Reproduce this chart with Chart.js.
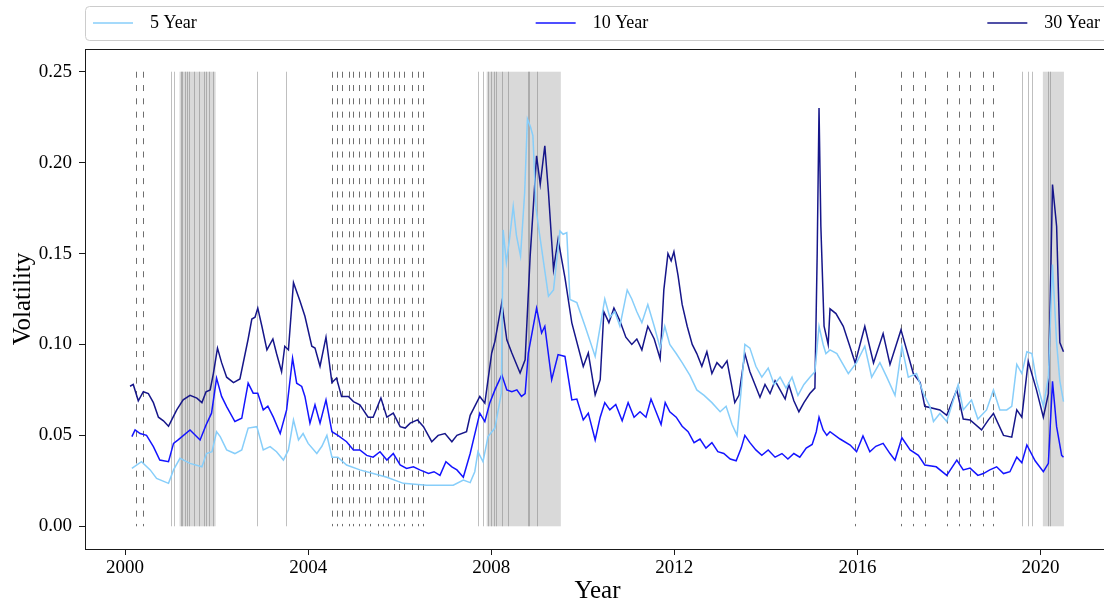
<!DOCTYPE html>
<html>
<head>
<meta charset="utf-8">
<script src="https://cdn.jsdelivr.net/npm/chart.js@4.4.1/dist/chart.umd.min.js"></script>
<style>
  html, body { margin: 0; padding: 0; background: #fff; }
  #wrap { width: 1104px; height: 611px; overflow: hidden; position: relative; }
  canvas { display: block; }
</style>
</head>
<body>
<div id="wrap"><canvas id="c" width="1120" height="611"></canvas></div>
<script>
// ---- series: rolling volatility of 5, 10 and 30 year yields ----
const dates5 = [2000.15,2000.36,2000.55,2000.69,2000.95,2001.06,2001.20,2001.42,2001.68,2001.78,2001.90,2002.00,2002.08,2002.22,2002.40,2002.55,2002.69,2002.88,2003.02,2003.17,2003.31,2003.46,2003.57,2003.68,2003.79,2003.89,2004.00,2004.19,2004.30,2004.41,2004.52,2004.65,2004.84,2005.13,2005.42,2005.72,2006.08,2006.59,2006.88,2007.17,2007.39,2007.54,2007.64,2007.71,2007.82,2007.93,2008.08,2008.22,2008.26,2008.33,2008.40,2008.48,2008.55,2008.64,2008.73,2008.79,2008.86,2008.91,2008.98,2009.05,2009.25,2009.36,2009.50,2009.57,2009.65,2009.72,2009.87,2010.05,2010.27,2010.38,2010.48,2010.59,2010.70,2010.81,2010.97,2011.07,2011.18,2011.29,2011.42,2011.56,2011.69,2011.79,2011.90,2012.04,2012.17,2012.34,2012.49,2012.65,2012.82,2013.00,2013.13,2013.26,2013.37,2013.46,2013.54,2013.65,2013.78,2013.91,2014.05,2014.18,2014.31,2014.44,2014.57,2014.70,2014.83,2014.96,2015.07,2015.16,2015.25,2015.31,2015.40,2015.55,2015.80,2015.98,2016.16,2016.31,2016.49,2016.64,2016.82,2016.97,2017.11,2017.29,2017.44,2017.58,2017.66,2017.80,2017.95,2018.20,2018.31,2018.49,2018.63,2018.82,2018.97,2019.11,2019.26,2019.37,2019.48,2019.59,2019.70,2019.81,2019.91,2020.06,2020.17,2020.26,2020.35,2020.42,2020.50];
const vol5 = [0.0318,0.0355,0.031,0.0263,0.0236,0.031,0.0374,0.0346,0.0327,0.040,0.041,0.052,0.0493,0.042,0.040,0.042,0.054,0.0548,0.042,0.0438,0.041,0.0364,0.042,0.0585,0.0475,0.051,0.0456,0.040,0.044,0.050,0.038,0.038,0.0337,0.031,0.029,0.027,0.0236,0.0226,0.0226,0.0226,0.0254,0.024,0.030,0.041,0.0355,0.0493,0.054,0.0732,0.163,0.145,0.158,0.176,0.160,0.1486,0.1836,0.224,0.2195,0.2148,0.1744,0.1615,0.1265,0.130,0.1624,0.1606,0.1615,0.1247,0.123,0.110,0.0934,0.110,0.125,0.115,0.118,0.110,0.130,0.125,0.118,0.112,0.122,0.110,0.098,0.110,0.100,0.095,0.090,0.083,0.075,0.072,0.068,0.063,0.066,0.056,0.050,0.075,0.100,0.098,0.088,0.082,0.087,0.078,0.082,0.076,0.082,0.072,0.078,0.082,0.085,0.110,0.100,0.095,0.097,0.095,0.084,0.090,0.099,0.082,0.090,0.082,0.072,0.099,0.082,0.084,0.073,0.066,0.0576,0.062,0.0576,0.078,0.064,0.0695,0.059,0.064,0.075,0.064,0.064,0.066,0.089,0.084,0.096,0.095,0.080,0.066,0.082,0.144,0.101,0.080,0.0686];

const dates10 = [2000.15,2000.22,2000.33,2000.47,2000.62,2000.76,2000.95,2001.06,2001.16,2001.42,2001.64,2001.77,2001.89,2002.00,2002.11,2002.22,2002.40,2002.55,2002.69,2002.80,2002.90,2003.02,2003.12,2003.24,2003.39,2003.53,2003.66,2003.75,2003.86,2003.93,2004.04,2004.15,2004.26,2004.39,2004.52,2004.65,2004.84,2004.99,2005.13,2005.28,2005.42,2005.57,2005.72,2005.86,2006.01,2006.15,2006.30,2006.44,2006.63,2006.75,2006.88,2007.01,2007.14,2007.25,2007.39,2007.54,2007.75,2007.86,2007.97,2008.08,2008.23,2008.34,2008.45,2008.56,2008.66,2008.74,2008.81,2008.99,2009.10,2009.17,2009.32,2009.46,2009.61,2009.76,2009.87,2010.01,2010.12,2010.27,2010.38,2010.48,2010.59,2010.72,2010.86,2010.99,2011.12,2011.25,2011.38,2011.49,2011.60,2011.71,2011.80,2011.90,2012.04,2012.17,2012.30,2012.43,2012.56,2012.69,2012.82,2012.95,2013.08,2013.22,2013.35,2013.46,2013.54,2013.65,2013.78,2013.91,2014.05,2014.20,2014.35,2014.48,2014.61,2014.74,2014.88,2015.01,2015.10,2015.16,2015.25,2015.33,2015.40,2015.62,2015.84,2015.98,2016.12,2016.27,2016.40,2016.56,2016.71,2016.82,2016.97,2017.15,2017.33,2017.47,2017.72,2017.95,2018.17,2018.31,2018.46,2018.63,2018.75,2018.89,2019.04,2019.19,2019.33,2019.48,2019.59,2019.70,2019.88,2020.06,2020.17,2020.26,2020.35,2020.46,2020.50];
const vol10 = [0.0493,0.053,0.051,0.050,0.0438,0.0364,0.0355,0.0456,0.0475,0.053,0.0475,0.0557,0.0622,0.0815,0.0714,0.0658,0.0576,0.0594,0.0787,0.0732,0.0732,0.064,0.066,0.060,0.051,0.064,0.0925,0.0787,0.0769,0.0714,0.0567,0.0668,0.0567,0.0695,0.052,0.050,0.0465,0.042,0.042,0.039,0.038,0.041,0.0364,0.040,0.0337,0.0318,0.0327,0.031,0.029,0.030,0.028,0.0355,0.0327,0.031,0.027,0.040,0.0622,0.0576,0.068,0.075,0.0833,0.075,0.074,0.075,0.0714,0.073,0.0953,0.120,0.1063,0.110,0.0806,0.0944,0.0934,0.0695,0.070,0.0585,0.0622,0.0475,0.060,0.068,0.064,0.067,0.058,0.068,0.060,0.063,0.060,0.070,0.063,0.056,0.068,0.063,0.060,0.055,0.052,0.046,0.048,0.043,0.046,0.041,0.040,0.037,0.036,0.043,0.050,0.046,0.042,0.039,0.042,0.038,0.040,0.037,0.040,0.038,0.043,0.045,0.052,0.060,0.053,0.050,0.052,0.048,0.0447,0.041,0.0497,0.041,0.044,0.0456,0.040,0.0364,0.0487,0.042,0.039,0.0337,0.0327,0.028,0.0364,0.031,0.032,0.028,0.029,0.031,0.0327,0.029,0.030,0.038,0.035,0.0447,0.036,0.030,0.0346,0.0797,0.0548,0.039,0.038];

const dates30 = [2000.11,2000.18,2000.29,2000.40,2000.51,2000.62,2000.73,2000.84,2000.95,2001.02,2001.13,2001.27,2001.42,2001.57,2001.68,2001.77,2001.86,2001.93,2002.02,2002.11,2002.22,2002.37,2002.51,2002.69,2002.77,2002.84,2002.90,2002.99,2003.10,2003.23,2003.31,2003.42,2003.49,2003.57,2003.68,2003.75,2003.82,2003.93,2004.08,2004.15,2004.26,2004.39,2004.52,2004.62,2004.73,2004.88,2004.99,2005.13,2005.31,2005.42,2005.59,2005.72,2005.86,2006.01,2006.12,2006.23,2006.39,2006.52,2006.70,2006.84,2006.99,2007.14,2007.25,2007.46,2007.54,2007.75,2007.86,2008.01,2008.08,2008.23,2008.34,2008.45,2008.63,2008.74,2008.85,2008.99,2009.07,2009.17,2009.25,2009.36,2009.46,2009.61,2009.76,2010.01,2010.12,2010.27,2010.38,2010.46,2010.57,2010.68,2010.81,2010.94,2011.07,2011.18,2011.29,2011.42,2011.56,2011.69,2011.77,2011.86,2011.93,2011.99,2012.08,2012.17,2012.28,2012.39,2012.49,2012.60,2012.71,2012.82,2012.93,2013.04,2013.15,2013.24,2013.32,2013.41,2013.54,2013.65,2013.76,2013.87,2013.98,2014.09,2014.20,2014.31,2014.42,2014.50,2014.61,2014.72,2014.83,2014.96,2015.07,2015.12,2015.16,2015.20,2015.27,2015.36,2015.40,2015.53,2015.69,2015.82,2015.95,2016.16,2016.35,2016.56,2016.71,2016.95,2017.22,2017.37,2017.47,2017.80,2017.95,2018.17,2018.31,2018.46,2018.71,2018.86,2018.97,2019.19,2019.37,2019.48,2019.59,2019.73,2019.91,2020.06,2020.17,2020.26,2020.35,2020.42,2020.50];
const vol30 = [0.077,0.078,0.069,0.074,0.073,0.068,0.060,0.058,0.055,0.0585,0.064,0.0695,0.072,0.0705,0.068,0.074,0.075,0.084,0.098,0.090,0.082,0.079,0.081,0.103,0.114,0.115,0.120,0.110,0.097,0.103,0.095,0.085,0.099,0.097,0.134,0.129,0.124,0.1155,0.099,0.098,0.088,0.104,0.079,0.0815,0.0714,0.0714,0.0686,0.0668,0.060,0.060,0.0705,0.060,0.0622,0.0548,0.054,0.0567,0.0585,0.0548,0.0465,0.050,0.051,0.0465,0.050,0.052,0.061,0.0714,0.0677,0.0953,0.1017,0.1229,0.1026,0.0953,0.0843,0.0916,0.1486,0.2038,0.188,0.2093,0.1836,0.1413,0.1578,0.1367,0.1119,0.0879,0.0953,0.0723,0.0806,0.118,0.112,0.120,0.113,0.104,0.100,0.103,0.097,0.110,0.103,0.092,0.130,0.150,0.146,0.151,0.138,0.122,0.110,0.100,0.095,0.088,0.096,0.084,0.090,0.087,0.091,0.079,0.068,0.072,0.095,0.085,0.078,0.071,0.078,0.073,0.080,0.075,0.070,0.078,0.069,0.063,0.068,0.073,0.076,0.150,0.230,0.165,0.110,0.100,0.1196,0.117,0.110,0.100,0.0898,0.110,0.0898,0.106,0.089,0.108,0.084,0.079,0.066,0.064,0.061,0.075,0.059,0.0585,0.053,0.0585,0.062,0.050,0.049,0.064,0.060,0.0907,0.075,0.060,0.073,0.188,0.165,0.101,0.096];

// ---- policy events and recession windows ----
const hikeDates = [2000.23,2000.39,2004.52,2004.63,2004.74,2004.89,2004.97,2005.12,2005.24,2005.35,2005.53,2005.64,2005.75,2005.87,2005.98,2006.09,2006.27,2006.39,2006.52,2015.95,2016.95,2017.22,2017.47,2017.96,2018.22,2018.45,2018.74,2018.96];
const cutDates = [2001.01,2001.08,2001.22,2001.25,2001.30,2001.35,2001.40,2001.50,2001.61,2001.73,2001.77,2001.84,2001.92,2002.88,2003.52,2007.72,2007.83,2007.94,2007.99,2008.07,2008.10,2008.24,2008.36,2008.80,2008.83,2008.99,2019.59,2019.72,2019.82,2020.17,2020.20];
const recessionStart = [2001.19,2007.90,2020.05];
const recessionEnd = [2001.98,2009.52,2020.51];

// ---- axes ----
const yearTicks = [2000,2004,2008,2012,2016,2020];
const volTicks = [0.00,0.05,0.10,0.15,0.20,0.25];
const seriesLabels = ['5 Year','10 Year','30 Year'];
const seriesColors = ['#87cefa','#1414ff','#16168a'];

const FONT = '"Liberation Serif", "Times New Roman", serif';

function pairs(xs, ys) { return xs.map((d, i) => ({ x: d, y: ys[i] })); }

const refLines = {
  id: 'refLines',
  beforeDatasetsDraw(chart) {
    const { ctx, chartArea: a, scales: { x, y } } = chart;
    const yLo = y.getPixelForValue(volTicks[0]);
    const yHi = y.getPixelForValue(volTicks[volTicks.length - 1]);
    ctx.save();
    ctx.beginPath();
    ctx.rect(a.left, a.top, a.right - a.left, a.bottom - a.top);
    ctx.clip();
    // shaded recessions
    ctx.fillStyle = 'rgba(128,128,128,0.3)';
    recessionStart.forEach((s, i) => {
      const l = x.getPixelForValue(s), r = x.getPixelForValue(recessionEnd[i]);
      ctx.fillRect(l, yHi, r - l, yLo - yHi);
    });
    // rate cuts: thin solid grey
    ctx.strokeStyle = 'rgba(128,128,128,0.5)';
    ctx.lineWidth = 1;
    cutDates.forEach(d => {
      const px = Math.round(x.getPixelForValue(d)) + 0.5;
      ctx.beginPath(); ctx.moveTo(px, yHi); ctx.lineTo(px, yLo); ctx.stroke();
    });
    // rate hikes: dashed dark grey
    ctx.strokeStyle = 'rgba(50,50,50,0.7)';
    ctx.setLineDash([6, 7.3]);
    hikeDates.forEach(d => {
      const px = Math.round(x.getPixelForValue(d)) + 0.5;
      ctx.beginPath(); ctx.moveTo(px, yHi); ctx.lineTo(px, yLo); ctx.stroke();
    });
    ctx.restore();
  },
  afterDraw(chart) {
    const { ctx, chartArea: a } = chart;
    ctx.save();
    // axes frame
    ctx.strokeStyle = '#1a1a1a';
    ctx.lineWidth = 1;
    ctx.strokeRect(Math.round(a.left) + 0.5, Math.round(a.top) + 0.5,
                   Math.round(a.right - a.left), Math.round(a.bottom - a.top));
    // axis titles
    ctx.fillStyle = '#000';
    ctx.font = '25px ' + FONT;
    ctx.textAlign = 'center';
    ctx.textBaseline = 'middle';
    ctx.fillText('Year', (a.left + a.right) / 2, 591);
    ctx.save();
    ctx.translate(23, (a.top + a.bottom) / 2);
    ctx.rotate(-Math.PI / 2);
    ctx.fillText('Volatility', 0, 0);
    ctx.restore();

    // legend spread across the top in three columns
    const boxL = a.left + 0.5, boxT = 6.5, boxR = 1108.5, boxB = 40.5, rad = 4;
    ctx.beginPath();
    ctx.moveTo(boxL + rad, boxT);
    ctx.lineTo(boxR - rad, boxT); ctx.quadraticCurveTo(boxR, boxT, boxR, boxT + rad);
    ctx.lineTo(boxR, boxB - rad); ctx.quadraticCurveTo(boxR, boxB, boxR - rad, boxB);
    ctx.lineTo(boxL + rad, boxB); ctx.quadraticCurveTo(boxL, boxB, boxL, boxB - rad);
    ctx.lineTo(boxL, boxT + rad); ctx.quadraticCurveTo(boxL, boxT, boxL + rad, boxT);
    ctx.closePath();
    ctx.fillStyle = 'rgba(255,255,255,0.9)';
    ctx.fill();
    ctx.strokeStyle = '#cccccc';
    ctx.stroke();

    ctx.font = '18px ' + FONT;
    ctx.textAlign = 'left';
    ctx.textBaseline = 'middle';
    const handle = 40, gapText = 17, innerL = 93, innerR = 1100, midY = 23;
    const widths = seriesLabels.map(t => handle + gapText + ctx.measureText(t).width);
    const spare = (innerR - innerL - widths.reduce((s, w) => s + w, 0)) / (seriesLabels.length - 1);
    let cx = innerL;
    seriesLabels.forEach((t, i) => {
      ctx.strokeStyle = seriesColors[i];
      ctx.lineWidth = 1.5;
      ctx.beginPath(); ctx.moveTo(cx, midY); ctx.lineTo(cx + handle, midY); ctx.stroke();
      ctx.fillStyle = '#000';
      ctx.fillText(t, cx + handle + gapText, midY);
      cx += widths[i] + spare;
    });
    ctx.restore();
  }
};

new Chart(document.getElementById('c'), {
  type: 'line',
  data: {
    datasets: [
      { label: seriesLabels[0], data: pairs(dates5, vol5), borderColor: seriesColors[0] },
      { label: seriesLabels[1], data: pairs(dates10, vol10), borderColor: seriesColors[1] },
      { label: seriesLabels[2], data: pairs(dates30, vol30), borderColor: seriesColors[2] }
    ]
  },
  options: {
    responsive: false,
    animation: false,
    layout: { padding: { top: 49, right: 10, left: 0, bottom: 0 } },
    elements: { point: { radius: 0 }, line: { borderWidth: 1.5, tension: 0 } },
    plugins: { legend: { display: false }, tooltip: { enabled: false } },
    scales: {
      x: {
        type: 'linear',
        min: 1999.126, max: 2021.516,
        afterFit: s => { s.height = 62; },
        afterBuildTicks: s => { s.ticks = yearTicks.map(v => ({ value: v })); },
        grid: { display: true, drawOnChartArea: false, drawTicks: true, tickLength: 6, color: '#1a1a1a' },
        border: { display: false },
        ticks: { font: { family: FONT, size: 19 }, color: '#000', padding: 2, maxRotation: 0,
                 callback: v => String(v) }
      },
      y: {
        type: 'linear',
        min: -0.0125, max: 0.2625,
        afterFit: s => { s.width = 85; },
        afterBuildTicks: s => { s.ticks = volTicks.map(v => ({ value: v })); },
        grid: { display: true, drawOnChartArea: false, drawTicks: true, tickLength: 6, color: '#1a1a1a' },
        border: { display: false },
        ticks: { font: { family: FONT, size: 19 }, color: '#000', padding: 7,
                 callback: v => v.toFixed(2) }
      }
    }
  },
  plugins: [refLines]
});
</script>
</body>
</html>
